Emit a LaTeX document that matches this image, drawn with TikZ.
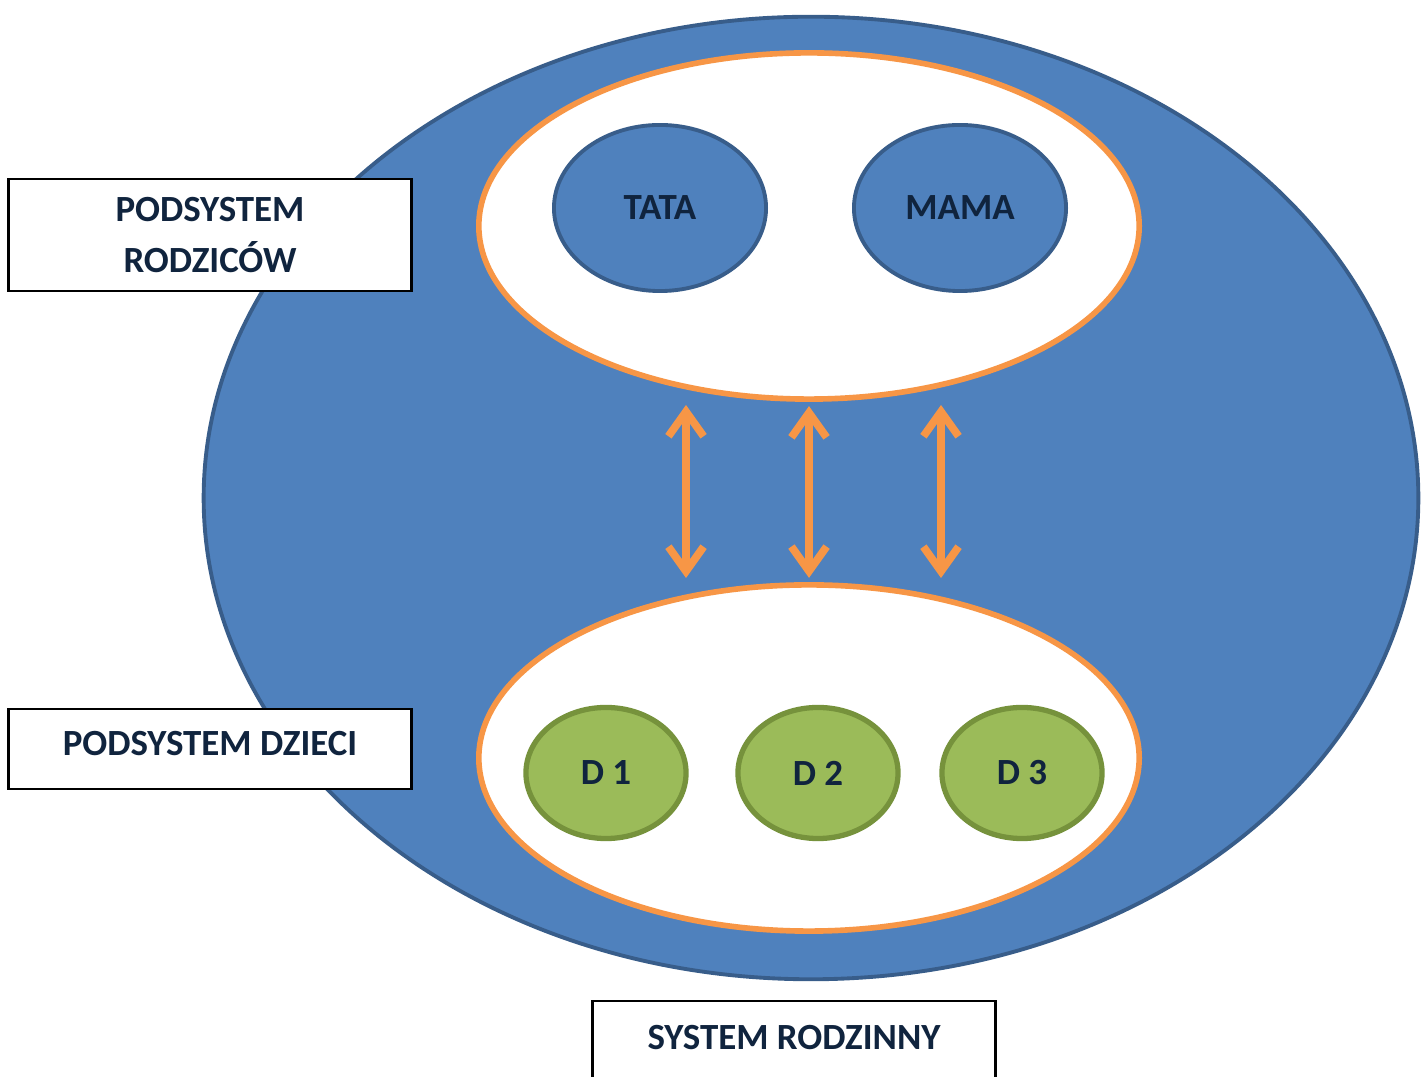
\documentclass[tikz,border=0pt]{standalone}
\usepackage{fontspec}
\setmainfont{Carlito}
\usetikzlibrary{arrows.meta, shapes.geometric}

\definecolor{famblue}{HTML}{4F81BD}
\definecolor{famblueline}{HTML}{385D8A}
\definecolor{famorange}{HTML}{F79646}
\definecolor{famgreen}{HTML}{9BBB59}
\definecolor{famgreenline}{HTML}{76923C}
\definecolor{famtext}{HTML}{10243E}

\begin{document}
\begin{tikzpicture}[
    x=0.01cm, y=-0.01cm,
    font=\fontsize{10.5}{14.5}\selectfont\bfseries, text=famtext,
    family/.style={ellipse, draw=famblueline, line width=1.1pt, fill=famblue,
      minimum width=12.14cm, minimum height=9.62cm},
    subsys/.style={ellipse, draw=famorange, line width=1.6pt, fill=white,
      minimum width=6.6cm, minimum height=3.46cm},
    parent/.style={ellipse, draw=famblueline, line width=1.1pt, fill=famblue,
      minimum width=2.12cm, minimum height=1.66cm},
    child/.style={ellipse, draw=famgreenline, line width=1.5pt, fill=famgreen,
      minimum width=1.6cm, minimum height=1.31cm},
    tag/.style={rectangle, draw=black, line width=0.8pt, fill=white, align=center,
      minimum width=4.02cm},
    link/.style={{Straight Barb[length=7pt, width=10pt]}-{Straight Barb[length=7pt, width=10pt]},
      draw=famorange, line width=2.2pt, line cap=round, line join=round},
  ]
  \useasboundingbox (0,0) rectangle (1421,1077);

  \node[family] (fam) at (811,498) {};

  \node[subsys] (par) at (809,226) {};
  \node[subsys] (chi) at (809,758) {};

  \node[parent] (tata) at (660,208) {TATA};
  \node[parent] (mama) at (960,208) {MAMA};

  \node[child] (d1) at (606,773) {D 1};
  \node[child] (d2) at (818,773) {D 2};
  \node[child] (d3) at (1022,773) {D 3};

  % ends of the side arrows
  \coordinate (lt) at (686,405);
  \coordinate (lb) at (686,578);
  \coordinate (rt) at (941,405);
  \coordinate (rb) at (941,578);

  \draw[link] (lt) -- (lb);
  \draw[link] ([yshift=-1.2pt]par.south) -- ([yshift=1.2pt]chi.north);
  \draw[link] (rt) -- (rb);

  \node[tag, minimum height=1.12cm] (tagpar) at (210,235) {PODSYSTEM\\RODZICÓW};
  \node[tag, minimum height=0.8cm, text depth=3.4pt] (tagchi) at (210,749) {PODSYSTEM DZIECI};
  \node[tag, minimum height=0.84cm, text depth=3.4pt] (tagfam) at (794,1043) {SYSTEM RODZINNY};
\end{tikzpicture}
\end{document}
